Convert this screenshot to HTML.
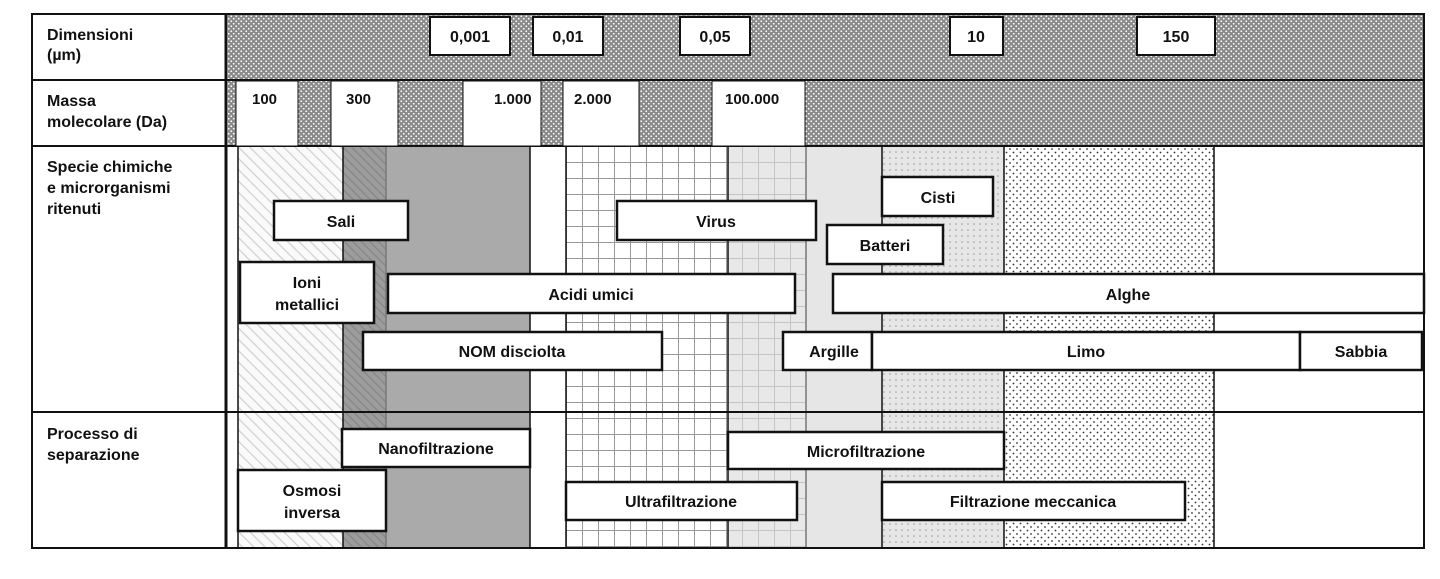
<!DOCTYPE html>
<html><head><meta charset="utf-8"><style>
html,body{margin:0;padding:0;background:#fff;}
svg{display:block;}
svg text{font-family:"Liberation Sans",sans-serif;font-weight:bold;font-size:16px;fill:#111;}
</style></head><body>
<svg width="1440" height="579" xmlns="http://www.w3.org/2000/svg" font-family="Liberation Sans, sans-serif" font-weight="bold" font-size="16">
<defs>
<pattern id="chk" width="5" height="5" patternUnits="userSpaceOnUse">
<rect width="5" height="5" fill="#8a8a8a"/>
<circle cx="1.25" cy="1.25" r="0.9" fill="#fff"/><circle cx="3.75" cy="3.75" r="0.9" fill="#fff"/>
</pattern>
<pattern id="hatchL" width="8" height="8" patternUnits="userSpaceOnUse" patternTransform="rotate(-45)">
<rect width="8" height="8" fill="#fafafa"/><rect width="1.2" height="8" fill="#cfcfcf"/>
</pattern>
<pattern id="hatchD" width="6" height="6" patternUnits="userSpaceOnUse" patternTransform="rotate(-45)">
<rect width="6" height="6" fill="#9c9c9c"/><rect width="1.2" height="6" fill="#858585"/>
</pattern>
<pattern id="grid" width="16" height="16" patternUnits="userSpaceOnUse" x="566" y="146">
<rect width="16" height="16" fill="#fff"/><path d="M0 0H16M0 0V16" stroke="#999" stroke-width="2" fill="none"/>
</pattern>
<pattern id="grid2" width="16" height="16" patternUnits="userSpaceOnUse" x="566" y="146">
<rect width="16" height="16" fill="#e8e8e8"/><path d="M0 0H16M0 0V16" stroke="#c4c4c4" stroke-width="2" fill="none"/>
</pattern>
<pattern id="dotL" width="6" height="6" patternUnits="userSpaceOnUse">
<rect width="6" height="6" fill="#e6e6e6"/><circle cx="2" cy="2" r="0.8" fill="#999"/>
</pattern>
<pattern id="dotW" width="7" height="7" patternUnits="userSpaceOnUse">
<rect width="7" height="7" fill="#fff"/><circle cx="2" cy="2" r="0.9" fill="#333"/><circle cx="5.5" cy="5.5" r="0.9" fill="#333"/>
</pattern>
</defs>
<rect x="228" y="14" width="1196" height="66" fill="url(#chk)"/>
<rect x="228" y="80" width="1196" height="66" fill="url(#chk)"/>
<g>
<rect x="238" y="146" width="105" height="402" fill="url(#hatchL)"/>
<rect x="343" y="146" width="43" height="402" fill="url(#hatchD)"/>
<rect x="386" y="146" width="144" height="402" fill="#aaa"/>
<rect x="566" y="146" width="162" height="402" fill="url(#grid)"/>
<rect x="728" y="146" width="78" height="402" fill="url(#grid2)"/>
<rect x="806" y="146" width="76" height="402" fill="#e6e6e6"/>
<rect x="882" y="146" width="122" height="402" fill="url(#dotL)"/>
<rect x="1004" y="146" width="210" height="402" fill="url(#dotW)"/>
</g>
<g stroke="#111" stroke-width="1.5">
<line x1="238" y1="146" x2="238" y2="548"/>
<line x1="343" y1="146" x2="343" y2="548"/>
<line x1="530" y1="146" x2="530" y2="548"/>
<line x1="566" y1="146" x2="566" y2="548"/>
<line x1="728" y1="146" x2="728" y2="548"/>
<line x1="882" y1="146" x2="882" y2="548"/>
<line x1="1004" y1="146" x2="1004" y2="548"/>
<line x1="1214" y1="146" x2="1214" y2="548"/>
</g>
<g stroke="#777" stroke-width="1.5">
<line x1="386" y1="146" x2="386" y2="548"/>
<line x1="806" y1="146" x2="806" y2="548"/>
</g>
<g stroke="#111" fill="none">
<rect x="32" y="14" width="1392" height="534" stroke-width="2"/>
<line x1="32" y1="80" x2="1424" y2="80" stroke-width="2"/>
<line x1="32" y1="146" x2="1424" y2="146" stroke-width="2"/>
<line x1="32" y1="412" x2="1424" y2="412" stroke-width="2"/>
<line x1="226" y1="14" x2="226" y2="548" stroke-width="3"/>
</g>
<text x="47" y="40">Dimensioni</text><text x="47" y="60">(µm)</text>
<text x="47" y="106">Massa</text><text x="47" y="127">molecolare (Da)</text>
<text x="47" y="172">Specie chimiche</text><text x="47" y="193">e microrganismi</text><text x="47" y="214">ritenuti</text>
<text x="47" y="439">Processo di</text><text x="47" y="460">separazione</text>
<g fill="#fff" stroke="#111" stroke-width="2">
<rect x="430" y="17" width="80" height="38"/>
<rect x="533" y="17" width="70" height="38"/>
<rect x="680" y="17" width="70" height="38"/>
<rect x="950" y="17" width="53" height="38"/>
<rect x="1137" y="17" width="78" height="38"/>
</g>
<text x="470" y="42" text-anchor="middle">0,001</text>
<text x="568" y="42" text-anchor="middle">0,01</text>
<text x="715" y="42" text-anchor="middle">0,05</text>
<text x="976" y="42" text-anchor="middle">10</text>
<text x="1176" y="42" text-anchor="middle">150</text>
<g fill="#fff" stroke="#111" stroke-width="1">
<rect x="236" y="81" width="62" height="65"/>
<rect x="331" y="81" width="67" height="65"/>
<rect x="463" y="81" width="78" height="65"/>
<rect x="563" y="81" width="76" height="65"/>
<rect x="712" y="81" width="93" height="65"/>
</g>
<text x="252" y="104" font-size="15" style="font-size:15px">100</text>
<text x="346" y="104" font-size="15" style="font-size:15px">300</text>
<text x="494" y="104" font-size="15" style="font-size:15px">1.000</text>
<text x="574" y="104" font-size="15" style="font-size:15px">2.000</text>
<text x="725" y="104" font-size="15" style="font-size:15px">100.000</text>
<g fill="#fff" stroke="#111" stroke-width="2.5">
<rect x="274" y="201" width="134" height="39"/>
<rect x="617" y="201" width="199" height="39"/>
<rect x="882" y="177" width="111" height="39"/>
<rect x="827" y="225" width="116" height="39"/>
<rect x="240" y="262" width="134" height="61"/>
<rect x="388" y="274" width="407" height="39"/>
<rect x="833" y="274" width="591" height="39"/>
<rect x="363" y="332" width="299" height="38"/>
<rect x="783" y="332" width="89" height="38"/>
<rect x="872" y="332" width="428" height="38"/>
<rect x="1300" y="332" width="122" height="38"/>
<rect x="342" y="429" width="188" height="38"/>
<rect x="728" y="432" width="276" height="37"/>
<rect x="238" y="470" width="148" height="61"/>
<rect x="566" y="482" width="231" height="38"/>
<rect x="882" y="482" width="303" height="38"/>
</g>
<text x="341" y="227" text-anchor="middle">Sali</text>
<text x="716" y="227" text-anchor="middle">Virus</text>
<text x="938" y="203" text-anchor="middle">Cisti</text>
<text x="885" y="251" text-anchor="middle">Batteri</text>
<text x="307" y="288" text-anchor="middle">Ioni</text>
<text x="307" y="310" text-anchor="middle">metallici</text>
<text x="591" y="300" text-anchor="middle">Acidi umici</text>
<text x="1128" y="300" text-anchor="middle">Alghe</text>
<text x="512" y="357" text-anchor="middle">NOM disciolta</text>
<text x="834" y="357" text-anchor="middle">Argille</text>
<text x="1086" y="357" text-anchor="middle">Limo</text>
<text x="1361" y="357" text-anchor="middle">Sabbia</text>
<text x="436" y="454" text-anchor="middle">Nanofiltrazione</text>
<text x="866" y="457" text-anchor="middle">Microfiltrazione</text>
<text x="312" y="496" text-anchor="middle">Osmosi</text>
<text x="312" y="518" text-anchor="middle">inversa</text>
<text x="681" y="507" text-anchor="middle">Ultrafiltrazione</text>
<text x="1033" y="507" text-anchor="middle">Filtrazione meccanica</text>
</svg>
</body></html>
